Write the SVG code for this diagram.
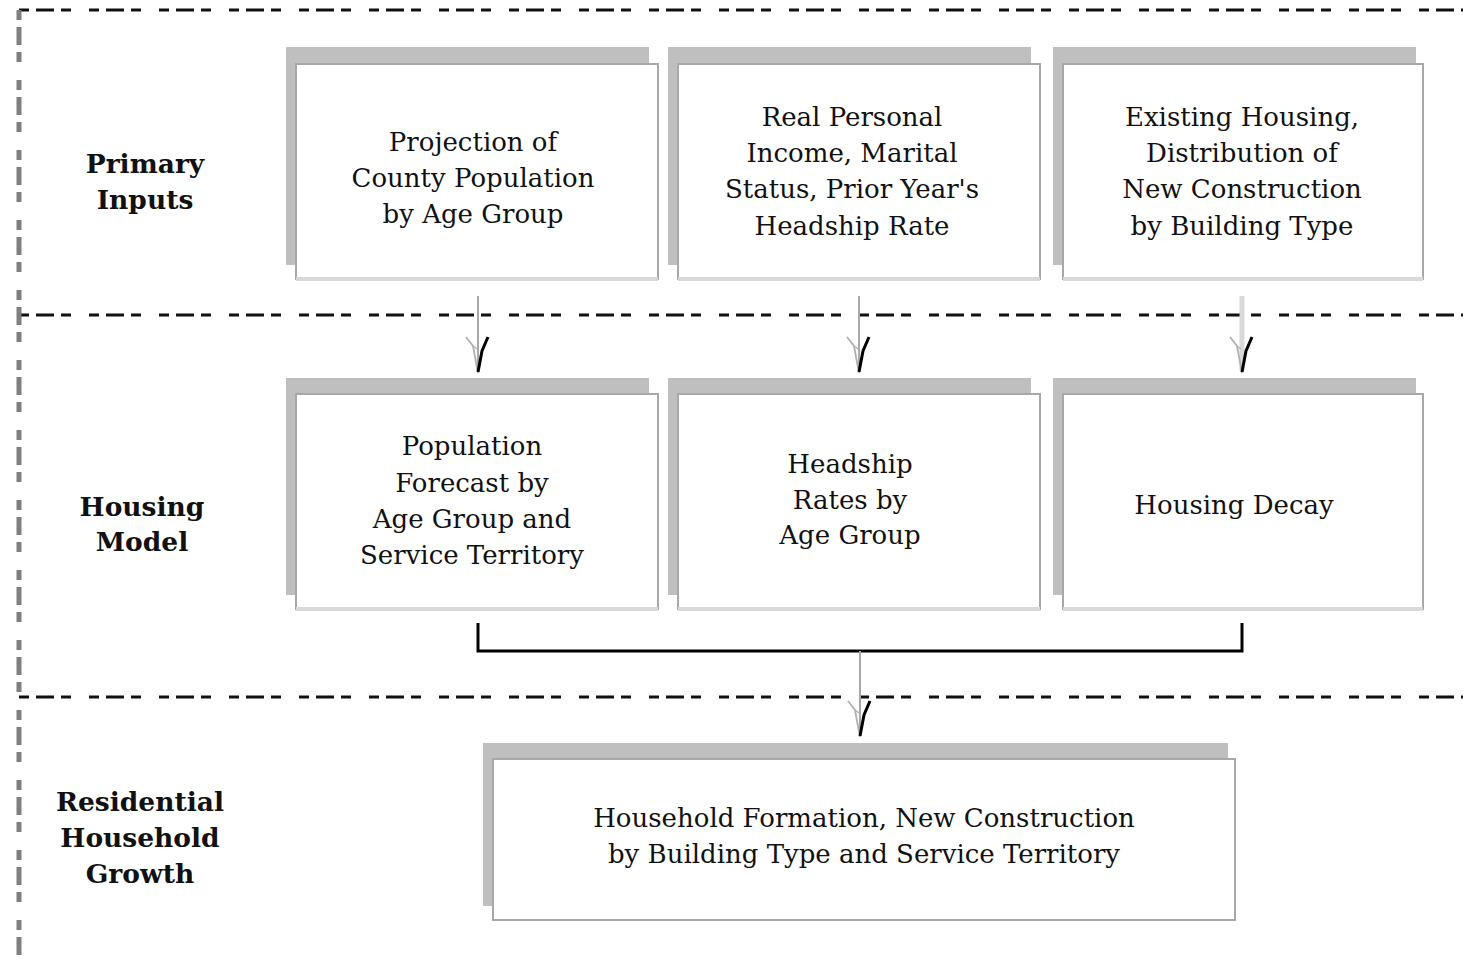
<svg xmlns="http://www.w3.org/2000/svg" xmlns:xlink="http://www.w3.org/1999/xlink" width="1463" height="961" viewBox="0 0 1463 961">
<style>
.frameh{stroke:#111;stroke-width:3;stroke-dasharray:10 7 18 7 10 18;fill:none}
.framev{stroke:#7f7f7f;stroke-width:5;stroke-dasharray:10 7 18 7 10 18;fill:none}
.shadow{fill:#bfbfbf}
.box{fill:#fff;stroke:#a8a8a8;stroke-width:2}
.boxbot{stroke:#d9d9d9;stroke-width:4}
.t{font-family:"DejaVu Serif","Liberation Serif",serif;font-size:26px;fill:#111;text-anchor:middle}
.lbl{font-family:"DejaVu Serif","Liberation Serif",serif;font-size:26.5px;font-weight:bold;fill:#111;text-anchor:middle}
.conn{stroke:#a8a8a8;stroke-width:2;fill:none}
.bracket{stroke:#000;stroke-width:3;fill:none}
</style>
<defs>
<g id="ah">
<path d="M-12,-36 L-5,-27 L0,0" fill="none" stroke="#b0b0b0" stroke-width="1.8"/>
<path d="M-5,-27 L-1,-24" fill="none" stroke="#b0b0b0" stroke-width="1.4"/>
<path d="M10,-36 L4,-22 L0,-1" fill="none" stroke="#000" stroke-width="3"/>
</g>
</defs>
<rect width="1463" height="961" fill="#fff"/>
<g id="frame">
<line class="frameh" x1="19" y1="10" x2="1463" y2="10"/>
<line class="frameh" x1="19" y1="315" x2="1463" y2="315"/>
<line class="frameh" x1="19" y1="697" x2="1463" y2="697"/>
<line class="framev" x1="19" y1="10" x2="19" y2="961"/>
</g>
<g id="label-primary">
<text class="lbl" x="145" y="173">Primary</text>
<text class="lbl" x="145" y="209">Inputs</text>
</g>
<g id="label-housing">
<text class="lbl" x="142" y="516">Housing</text>
<text class="lbl" x="142" y="551">Model</text>
</g>
<g id="label-residential">
<text class="lbl" x="140" y="811">Residential</text>
<text class="lbl" x="140" y="847">Household</text>
<text class="lbl" x="140" y="883">Growth</text>
</g>
<g id="connectors">
<line class="conn" x1="478" y1="296" x2="478" y2="371"/>
<use xlink:href="#ah" x="478" y="373"/>
<line class="conn" x1="859" y1="296" x2="859" y2="371"/>
<use xlink:href="#ah" x="859" y="373"/>
<line x1="1242" y1="296" x2="1242" y2="371" stroke="#d9d9d9" stroke-width="5"/>
<use xlink:href="#ah" x="1242" y="373"/>
<polyline class="bracket" points="478,623 478,651 1242,651 1242,623"/>
<line class="conn" x1="860" y1="651" x2="860" y2="735"/>
<use xlink:href="#ah" x="860" y="737"/>
</g>
<g id="n-projection">
<rect class="shadow" x="286" y="47" width="363" height="218"/>
<rect class="box" x="296" y="64" width="362" height="215"/>
<line class="boxbot" x1="296" y1="279" x2="658" y2="279"/>
<text class="t" x="473" y="151">Projection of</text>
<text class="t" x="473" y="187">County Population</text>
<text class="t" x="473" y="223">by Age Group</text>
</g>
<g id="n-income">
<rect class="shadow" x="668" y="47" width="363" height="218"/>
<rect class="box" x="678" y="64" width="362" height="215"/>
<line class="boxbot" x1="678" y1="279" x2="1040" y2="279"/>
<text class="t" x="852" y="126">Real Personal</text>
<text class="t" x="852" y="162">Income, Marital</text>
<text class="t" x="852" y="198">Status, Prior Year's</text>
<text class="t" x="852" y="235">Headship Rate</text>
</g>
<g id="n-existing">
<rect class="shadow" x="1053" y="47" width="363" height="218"/>
<rect class="box" x="1063" y="64" width="360" height="215"/>
<line class="boxbot" x1="1063" y1="279" x2="1423" y2="279"/>
<text class="t" x="1242" y="126">Existing Housing,</text>
<text class="t" x="1242" y="162">Distribution of</text>
<text class="t" x="1242" y="198">New Construction</text>
<text class="t" x="1242" y="235">by Building Type</text>
</g>
<g id="n-popforecast">
<rect class="shadow" x="286" y="378" width="363" height="217"/>
<rect class="box" x="296" y="394" width="362" height="215"/>
<line class="boxbot" x1="296" y1="609" x2="658" y2="609"/>
<text class="t" x="472" y="455">Population</text>
<text class="t" x="472" y="492">Forecast by</text>
<text class="t" x="472" y="528">Age Group and</text>
<text class="t" x="472" y="564">Service Territory</text>
</g>
<g id="n-headship">
<rect class="shadow" x="668" y="378" width="363" height="217"/>
<rect class="box" x="678" y="394" width="362" height="215"/>
<line class="boxbot" x1="678" y1="609" x2="1040" y2="609"/>
<text class="t" x="850" y="473">Headship</text>
<text class="t" x="850" y="509">Rates by</text>
<text class="t" x="850" y="544">Age Group</text>
</g>
<g id="n-decay">
<rect class="shadow" x="1053" y="378" width="363" height="217"/>
<rect class="box" x="1063" y="394" width="360" height="215"/>
<line class="boxbot" x1="1063" y1="609" x2="1423" y2="609"/>
<text class="t" x="1234" y="514">Housing Decay</text>
</g>
<g id="n-household">
<rect class="shadow" x="483" y="743" width="745" height="163"/>
<rect class="box" x="493" y="759" width="742" height="161"/>
<text class="t" x="864" y="827">Household Formation, New Construction</text>
<text class="t" x="864" y="863">by Building Type and Service Territory</text>
</g>
</svg>
